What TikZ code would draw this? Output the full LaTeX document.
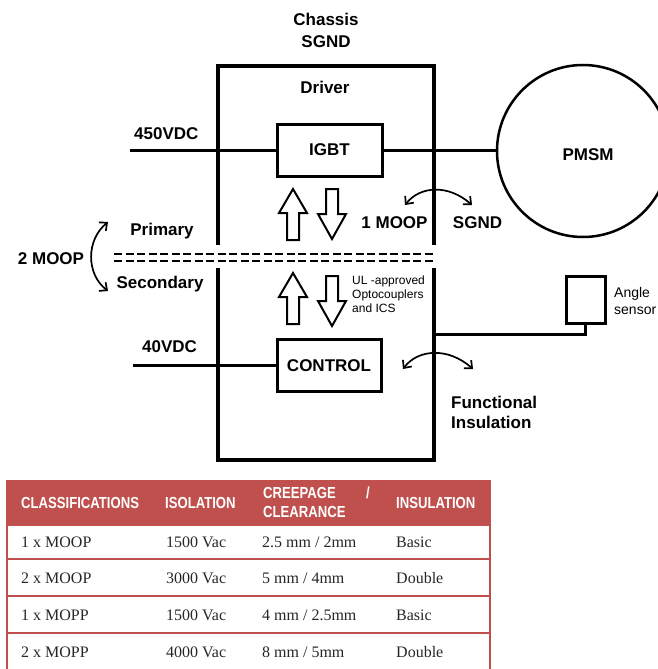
\documentclass[tikz,border=0pt]{standalone}
\usepackage{fontspec}
\setmainfont{Liberation Sans}
\newfontfamily\tms{Liberation Serif}
\usetikzlibrary{arrows.meta}
\definecolor{tred}{HTML}{C0504D}
\definecolor{celltxt}{HTML}{262626}
\newcommand{\hdtxt}[1]{\scalebox{0.82}[1]{#1}}
\begin{document}
\begin{tikzpicture}[x=1pt,y=-1pt,
  lbl/.style={font=\fontsize{17}{20}\selectfont\bfseries, inner sep=0pt, text height=12.2pt, text depth=0pt},
  small/.style={font=\fontsize{12}{14}\selectfont, inner sep=0pt, anchor=west, text height=8.6pt, text depth=0pt},
  mid/.style={font=\fontsize{14}{16}\selectfont, inner sep=0pt, anchor=west, text height=10pt, text depth=0pt},
  box/.style={draw, line width=3pt, inner sep=0pt, font=\fontsize{17}{20}\selectfont\bfseries},
  wire/.style={line width=3pt},
  dline/.style={line width=2.2pt, dash pattern=on 8pt off 3.5pt},
  barr/.style={draw, line width=2pt, line join=miter, fill=white},
  carr/.style={line width=1.7pt, {Straight Barb[length=6pt,width=11pt]}-{Straight Barb[length=6pt,width=11pt]}},
  hd/.style={font=\fontsize{16}{18}\selectfont\bfseries, text=white, inner sep=0pt, anchor=west, text height=11.5pt, text depth=0pt},
  cell/.style={font=\tms\fontsize{16}{18}\selectfont, text=celltxt, inner sep=0pt, anchor=west, text height=10.6pt, text depth=0pt},
  uparr/.pic={\draw[barr] (0,0) -- (14,24) -- (6,24) -- (6,51) -- (-6,51) -- (-6,24) -- (-14,24) -- cycle;},
  dnarr/.pic={\draw[barr] (-6,0) -- (6,0) -- (6,25) -- (14,25) -- (0,50) -- (-14,25) -- (-6,25) -- cycle;}
]
\useasboundingbox (0,0) rectangle (657,669);

% titles
\node[lbl] (chassis) at (326,19) {Chassis};
\node[lbl] (chassisgnd) at (326,41) {SGND};
\node[lbl] (driverlbl) at (325,87) {Driver};

% driver box (broken at the isolation barrier)
\draw[wire, line width=3.2pt] (218,245) -- (218,66) -- (434,66) -- (434,245);
\draw[wire, line width=3.2pt] (218,268) -- (218,460) -- (434,460) -- (434,268);

% barrier
\draw[dline] (114,254) -- (434,254);
\draw[dline] (114,261) -- (434,261);

% boxes
\node[box, minimum width=105pt, minimum height=52pt] (igbt) at (329.5,150) {IGBT};
\node[box, minimum width=104pt, minimum height=52pt] (control) at (329,365.5) {CONTROL};
\node[draw, circle, line width=2.5pt, minimum size=172pt, inner sep=0pt] (pmsm) at (583,151) {};
\node[lbl] (pmsmlbl) at (588,154) {PMSM};
\node[draw, line width=3pt, minimum width=39pt, minimum height=47pt, inner sep=0pt] (sensor) at (585.5,299.5) {};

% wires
\coordinate (in450) at (130,150);
\coordinate (in40) at (133,365.5);
\coordinate (sj) at (434,334);
\draw[wire] (in450) -- (igbt.west);
\draw[wire] (igbt.east) -- (igbt.east -| pmsm.west);
\draw[wire] (in40) -- (control.west);
\draw[wire] (sensor.south) |- (sj);

% labels
\node[lbl, anchor=west] (v450) at (134,133) {450VDC};
\node[lbl, anchor=west] (v40) at (142,346) {40VDC};
\node[lbl] (prim) at (162,229) {Primary};
\node[lbl] (sec) at (160,282) {Secondary};
\node[lbl] (moop2) at (51,258) {2 MOOP};
\node[lbl] (moop1) at (394.5,222) {1 MOOP};
\node[lbl] (sgnd) at (477.5,222) {SGND};
\node[lbl, anchor=west] (func1) at (451,402) {Functional};
\node[lbl, anchor=west] (func2) at (451,422) {Insulation};
\node[small] (ul1) at (352,280.5) {UL -approved};
\node[small] (ul2) at (352,294.5) {Optocouplers};
\node[small] (ul3) at (352,308) {and ICS};
\node[mid] (ang1) at (614,292) {Angle};
\node[mid] (ang2) at (614,309) {sensor};

% block arrows
\pic at (293,189) {uparr};
\pic at (332,189) {dnarr};
\pic at (293,273) {uparr};
\pic at (332,276) {dnarr};

% curved arrows
\coordinate (a1) at (405,205); \coordinate (a2) at (472,205);
\draw[carr] (a1) .. controls (420,186) and (448,184) .. (a2);
\coordinate (b1) at (108,222); \coordinate (b2) at (108,291);
\draw[carr] (b1) .. controls (86,240) and (86,274) .. (b2);
\coordinate (c1) at (403,369); \coordinate (c2) at (473,369);
\draw[carr] (c1) .. controls (418,349) and (448,347) .. (c2);

% table
\fill[tred] (7,481) rectangle (490,525);
\draw[tred, line width=2.2pt] (7,676) -- (7,481) -- (490,481) -- (490,676);
\foreach \yy in {525,559,596,633} \draw[tred, line width=2.5pt] (7,\yy) -- (490,\yy);

\node[hd] (h1) at (21,503) {\hdtxt{CLASSIFICATIONS}};
\node[hd] (h2) at (165,503) {\hdtxt{ISOLATION}};
\node[hd] (h3) at (263,493) {\hdtxt{CREEPAGE}};
\node[hd] (h3s) at (366,493) {\hdtxt{/}};
\node[hd] (h3b) at (263,512) {\hdtxt{CLEARANCE}};
\node[hd] (h4) at (396,503) {\hdtxt{INSULATION}};

\node[cell] (r1a) at (21,542) {1 x MOOP};
\node[cell] (r1b) at (166,542) {1500 Vac};
\node[cell] (r1c) at (262,542) {2.5 mm / 2mm};
\node[cell] (r1d) at (396,542) {Basic};
\node[cell] (r2a) at (21,578) {2 x MOOP};
\node[cell] (r2b) at (166,578) {3000 Vac};
\node[cell] (r2c) at (262,578) {5 mm / 4mm};
\node[cell] (r2d) at (396,578) {Double};
\node[cell] (r3a) at (21,615) {1 x MOPP};
\node[cell] (r3b) at (166,615) {1500 Vac};
\node[cell] (r3c) at (262,615) {4 mm / 2.5mm};
\node[cell] (r3d) at (396,615) {Basic};
\node[cell] (r4a) at (21,652) {2 x MOPP};
\node[cell] (r4b) at (166,652) {4000 Vac};
\node[cell] (r4c) at (262,652) {8 mm / 5mm};
\node[cell] (r4d) at (396,652) {Double};
\end{tikzpicture}
\end{document}
